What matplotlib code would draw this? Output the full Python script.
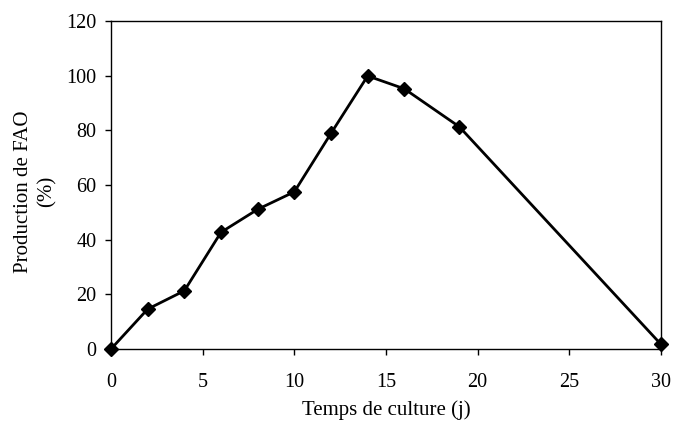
import matplotlib
matplotlib.use('Agg')
import matplotlib.pyplot as plt

# temps de culture (jours) et production relative de FAO (%)
jours = [0, 2, 4, 6, 8, 10, 12, 14, 16, 19, 30]
production = [0, 14.6, 21.3, 42.7, 51.1, 57.5, 78.9, 99.9, 95.2, 81.3, 1.7]

plt.rcParams['font.family'] = ['Liberation Serif', 'DejaVu Serif']

fig = plt.figure(figsize=(6.75, 4.21), dpi=100)
ax = fig.add_axes([111 / 675, 1 - 349 / 421, 550 / 675, 328 / 421])

ax.plot(jours, production, color='black', linewidth=2.0, marker='D', markersize=7.5,
        clip_on=False, zorder=3)

ax.set_xlim(0, 30)
ax.set_ylim(0, 120)
ax.set_xticks([0, 5, 10, 15, 20, 25, 30])
ax.set_yticks([0, 20, 40, 60, 80, 100, 120])
ax.tick_params(direction='out', length=4.5, width=1, labelsize=14.5)
ax.tick_params(axis='x', pad=13)
ax.tick_params(axis='y', pad=6)

ax.set_xlabel('Temps de culture (j)', fontsize=15, labelpad=6)
ax.set_ylabel('Production de FAO\n(%)', fontsize=15, linespacing=1.35)
ax.yaxis.set_label_coords(-0.098, 0.48)

for s in ax.spines.values():
    s.set_linewidth(1)

fig.savefig('out.png', dpi=100)
